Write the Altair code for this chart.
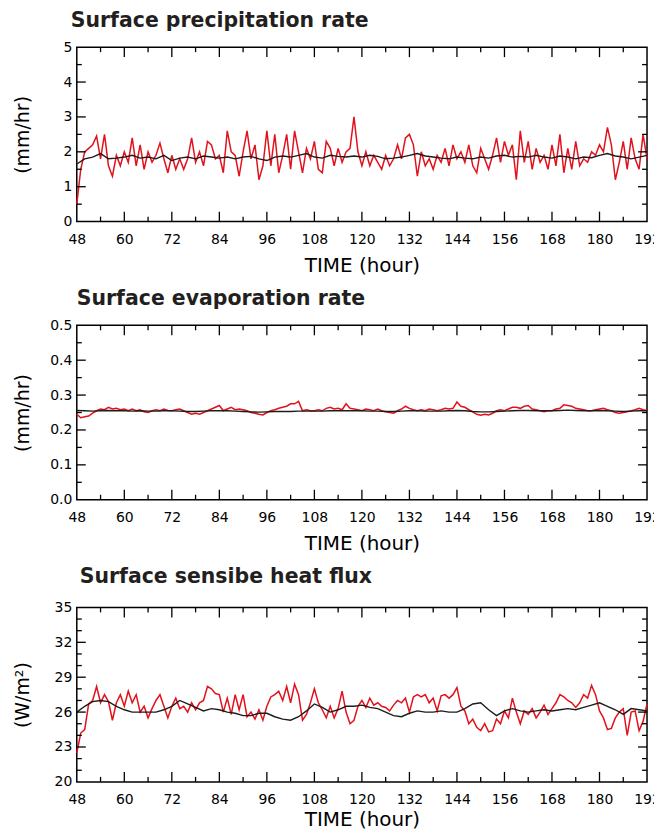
import altair as alt
import pandas as pd

hours = list(range(48, 193))
hours2 = list(range(48, 193, 2))

precip_red = [
    0.5, 1.5, 2.0, 2.1, 2.2, 2.45, 1.8, 2.5, 1.6, 1.3, 1.9, 1.6,
    2.0, 1.7, 2.4, 1.6, 2.2, 1.5, 2.0, 1.7, 1.9, 2.25, 1.8, 1.4,
    1.9, 1.5, 1.8, 1.5, 1.8, 2.4, 1.7, 2.0, 1.6, 2.3, 2.2, 1.8,
    1.9, 1.4, 2.6, 2.0, 1.9, 1.3, 2.0, 2.6, 1.8, 2.2, 1.2, 1.6,
    2.6, 1.6, 2.5, 1.4, 1.9, 2.5, 1.5, 2.6, 2.0, 1.4, 2.1, 1.8,
    2.3, 1.5, 1.4, 2.3, 2.1, 1.6, 2.1, 1.7, 2.0, 2.1, 3.0, 2.0,
    1.6, 2.0, 1.6, 1.9, 1.7, 1.5, 1.9, 1.6, 1.8, 2.2, 1.8, 2.4,
    2.5, 2.2, 1.3, 2.0, 1.6, 1.8, 1.5, 1.9, 1.7, 2.1, 1.6, 2.2,
    1.8, 2.0, 1.7, 2.2, 1.6, 1.4, 2.1, 1.8, 1.5, 1.9, 2.4, 1.7,
    2.3, 1.9, 2.2, 1.2, 2.6, 1.7, 2.3, 1.5, 2.1, 1.7, 1.9, 1.5,
    2.2, 1.6, 2.5, 1.4, 2.1, 1.5, 2.3, 1.6, 1.8, 1.7, 2.0, 1.9,
    2.2, 2.0, 2.7, 2.2, 1.2, 1.7, 2.3, 1.5, 2.4, 1.8, 1.5, 2.5,
    1.8,
]
precip_black = [
    1.65, 1.8, 1.85, 1.95, 1.8, 1.82,
    1.85, 1.9, 1.82, 1.85, 1.8, 1.9,
    1.75, 1.82, 1.85, 1.8, 1.88, 1.85,
    1.82, 1.85, 1.8, 1.85, 1.87, 1.8,
    1.75, 1.85, 1.88, 1.85, 1.9, 1.95,
    1.85, 1.82, 1.9, 1.87, 1.85, 1.88,
    1.85, 1.9, 1.87, 1.8, 1.82, 1.85,
    1.9, 1.95, 1.88, 1.85, 1.82, 1.8,
    1.85, 1.82, 1.8, 1.85, 1.82, 1.88,
    1.9, 1.85, 1.87, 1.85, 1.9, 1.85,
    1.82, 1.88, 1.85, 1.8, 1.85, 1.83,
    1.9, 1.95, 1.88, 1.85, 1.8, 1.85,
    1.9,
]
evap_red = [
    .245, .235, .238, .24, .248, .255, .26, .258, .265, .26, .262, .258,
    .26, .255, .26, .255, .258, .252, .25, .255, .258, .255, .26, .256,
    .255, .258, .26, .255, .25, .245, .248, .245, .25, .255, .26, .265,
    .27, .255, .26, .265, .258, .26, .258, .255, .25, .248, .245, .243,
    .25, .255, .258, .262, .265, .268, .275, .275, .282, .255, .258, .255,
    .255, .258, .255, .262, .265, .26, .262, .258, .275, .262, .26, .258,
    .255, .26, .258, .255, .26, .255, .252, .25, .248, .255, .26, .268,
    .262, .258, .255, .258, .255, .26, .258, .255, .258, .262, .26, .262,
    .28, .268, .265, .258, .252, .245, .242, .245, .243, .248, .255, .258,
    .255, .26, .265, .265, .262, .268, .27, .26, .258, .255, .252, .255,
    .255, .26, .262, .272, .27, .268, .262, .26, .258, .255, .255, .258,
    .26, .262, .258, .255, .25, .248, .25, .252, .255, .258, .262, .258,
    .256,
]
evap_black = [
    .256, .255, .254, .255, .256, .255,
    .255, .254, .255, .254, .254, .255,
    .255, .254, .253, .253, .254, .255,
    .255, .255, .254, .253, .252, .251,
    .252, .253, .253, .253, .254, .254,
    .254, .254, .255, .255, .255, .255,
    .255, .254, .254, .253, .253, .254,
    .255, .255, .254, .254, .254, .255,
    .256, .255, .253, .252, .252, .253,
    .254, .255, .256, .256, .255, .255,
    .255, .256, .257, .256, .255, .255,
    .256, .255, .254, .253, .254, .255,
    .255,
]
heat_red = [
    22.5, 24.2, 24.5, 26.7, 27.0, 28.2, 26.8, 27.5, 26.9, 25.3, 26.8, 27.5,
    26.5, 27.8, 26.8, 27.5, 26.0, 26.5, 25.5, 26.3, 27.0, 27.5, 26.5, 25.5,
    26.5, 27.2, 26.3, 26.5, 26.0, 26.8, 26.2, 26.8, 27.0, 28.2, 28.0, 27.6,
    27.5, 26.0, 27.2, 25.8, 27.5, 26.2, 27.5, 25.6, 26.0, 25.4, 26.2, 25.3,
    26.5, 27.3, 27.5, 27.8, 27.0, 28.2, 26.8, 28.4, 27.5, 25.3, 25.8, 26.8,
    28.0, 26.8, 26.2, 25.5, 26.5, 25.5, 26.3, 27.8, 26.0, 25.0, 25.3, 26.5,
    27.0, 26.4, 27.2, 26.6, 26.8, 26.5, 26.4, 26.1, 26.6, 27.0, 26.8, 27.2,
    26.0, 27.3, 27.5, 27.3, 27.5, 26.8, 27.2, 26.1, 27.4, 27.5, 27.2, 27.5,
    28.1, 26.5, 26.1, 25.0, 25.4, 24.7, 24.4, 25.0, 24.3, 24.4, 25.4, 25.0,
    26.1, 25.5, 27.2, 26.0, 25.0, 26.1, 25.8, 26.3, 25.5, 26.0, 26.6, 25.8,
    26.3, 26.8, 27.5, 27.3, 27.0, 26.8, 26.4, 26.8, 27.5, 27.2, 28.3, 27.5,
    26.1, 25.5, 24.5, 24.6, 25.5, 26.0, 26.3, 24.0, 26.0, 26.1, 24.4, 25.2,
    26.7,
]
heat_black = [
    26.0, 26.5, 26.9, 27.0, 26.9, 26.5,
    26.2, 26.0, 26.0, 26.0, 26.0, 26.2,
    26.5, 27.0, 26.7, 26.4, 26.1, 26.3,
    26.2, 26.0, 25.9, 25.7, 25.7, 25.9,
    25.9, 25.6, 25.4, 25.3, 25.6, 26.1,
    26.7, 26.4, 26.0, 26.2, 26.5, 26.5,
    26.6, 26.4, 26.3, 26.0, 25.7, 25.6,
    25.9, 26.1, 26.0, 26.0, 26.1, 26.0,
    26.0, 26.3, 26.7, 26.8, 26.2, 25.7,
    26.1, 26.3, 26.1, 26.0, 26.1, 26.2,
    26.1, 26.2, 26.3, 26.2, 26.4, 26.6,
    26.8, 26.5, 26.2, 25.8, 26.3, 26.2,
    26.1,
]

x_labels = [48, 60, 72, 84, 96, 108, 120, 132, 144, 156, 168, 180, 192]
x_major = [60, 72, 84, 96, 108, 120, 132, 144, 156, 168, 180]
x_minor = [54, 66, 78, 90, 102, 114, 126, 138, 150, 162, 174, 186]

panels = [
    dict(title="Surface precipitation rate", ytitle="(mm/hr)",
         red=precip_red, black=precip_black, dom=[0, 5], fmt="d",
         labels=[0, 1, 2, 3, 4, 5], major=[1, 2, 3, 4],
         minor=[0.5, 1.5, 2.5, 3.5, 4.5], dx=-6, offset=-7, xt=50),
    dict(title="Surface evaporation rate", ytitle="(mm/hr)",
         red=evap_red, black=evap_black, dom=[0, 0.5], fmt=".1f",
         labels=[0, 0.1, 0.2, 0.3, 0.4, 0.5], major=[0.1, 0.2, 0.3, 0.4],
         minor=[0.05, 0.15, 0.25, 0.35, 0.45], dx=0, offset=-7, xt=50),
    dict(title="Surface sensibe heat flux", ytitle="(W/m²)",
         red=heat_red, black=heat_black, dom=[20, 35], fmt="d",
         labels=[20, 23, 26, 29, 32, 35], major=[23, 26, 29, 32],
         minor=[21, 22, 24, 25, 27, 28, 30, 31, 33, 34], dx=3, offset=-3, xt=44),
]

W, H = 572, 175
RED = "#e2121c"
BLACK = "#1c1c1c"


def make_panel(p):
    xs = alt.Scale(domain=[48, 192], nice=False, zero=False)
    ys = alt.Scale(domain=p["dom"], nice=False, zero=False)
    xaxis = alt.Axis(values=x_labels, title="TIME  (hour)", ticks=False, grid=False,
                     domain=False, labelFlush=False, labelOverlap=False,
                     labelPadding=11, titleY=p["xt"], titleBaseline="alphabetic",
                     titleFontSize=20)
    yaxis = alt.Axis(values=p["labels"], format=p["fmt"], title=p["ytitle"],
                     ticks=False, grid=False, domain=False, labelFlush=False,
                     labelOverlap=False, labelPadding=5, titleX=-54,
                     titleBaseline="middle", titleFontSize=19)
    X = lambda f: alt.X(f, scale=xs, axis=xaxis)
    Y = lambda f: alt.Y(f, scale=ys, axis=yaxis)
    red_df = pd.DataFrame({"hour": hours, "v": p["red"]})
    black_df = pd.DataFrame({"hour": hours2, "v": p["black"]})
    red = alt.Chart(red_df).mark_line(color=RED, strokeWidth=1.5).encode(
        x=X("hour:Q"), y=Y("v:Q"))
    black = alt.Chart(black_df).mark_line(color=BLACK, strokeWidth=1.4).encode(
        x=X("hour:Q"), y=Y("v:Q"))
    layers = [red, black]
    xmaj = pd.DataFrame({"hour": x_major})
    xmin = pd.DataFrame({"hour": x_minor})
    ymaj = pd.DataFrame({"v": p["major"]})
    ymin = pd.DataFrame({"v": p["minor"]})
    for df, ln in ((xmaj, 10), (xmin, 5)):
        layers.append(alt.Chart(df).mark_rule(color="black", strokeWidth=1.3).encode(
            x=X("hour:Q"), y=alt.value(H), y2=alt.value(H - ln)))
        layers.append(alt.Chart(df).mark_rule(color="black", strokeWidth=1.3).encode(
            x=X("hour:Q"), y=alt.value(0), y2=alt.value(ln)))
    for df, ln in ((ymaj, 9), (ymin, 5)):
        layers.append(alt.Chart(df).mark_rule(color="black", strokeWidth=1.3).encode(
            y=Y("v:Q"), x=alt.value(0), x2=alt.value(ln)))
        layers.append(alt.Chart(df).mark_rule(color="black", strokeWidth=1.3).encode(
            y=Y("v:Q"), x=alt.value(W), x2=alt.value(W - ln)))
    return alt.layer(*layers).properties(
        width=W, height=H,
        title=alt.TitleParams(p["title"], anchor="start", font="DejaVu Sans",
                              fontSize=20.5, fontWeight="bold", color="#231f20",
                              dx=p["dx"], offset=p["offset"], frame="group",
                              baseline="alphabetic"),
    )


p1, p2, p3 = [make_panel(p) for p in panels]
chart = alt.vconcat(p1, p2, p3, spacing=11).properties(
    padding={"left": 5, "top": 0, "right": -8, "bottom": -1},
    background="white",
).configure_view(
    stroke="black", strokeWidth=1.5
).configure_axis(
    labelFont="DejaVu Sans", labelFontSize=14, labelColor="black",
    titleFont="DejaVu Sans", titleFontWeight="normal", titleColor="black"
)

chart.save("out.html", embed_options={"renderer": "svg", "actions": False})
